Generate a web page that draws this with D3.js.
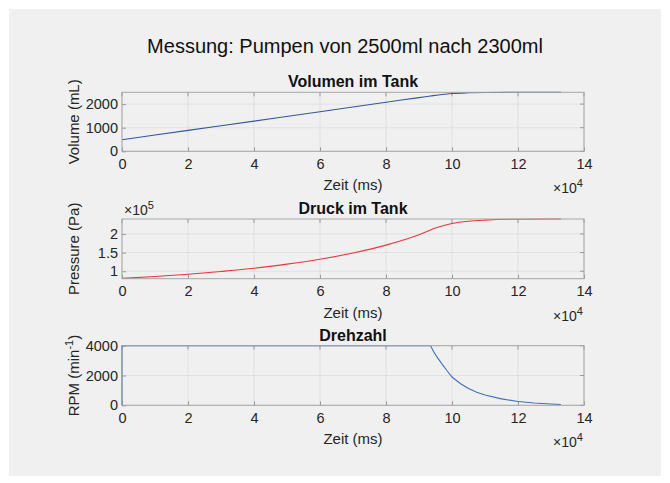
<!DOCTYPE html>
<html><head><meta charset="utf-8">
<script src="https://cdn.jsdelivr.net/npm/d3@7"></script>
<style>body{margin:0;background:#fff}svg{display:block}text{font-family:"Liberation Sans",Arial,sans-serif}</style>
</head><body><svg id="c" width="670" height="483"></svg>
<script>
// time in units of 1e4 ms
const xTicks = [0,2,4,6,8,10,12,14];
const volumeT = [0,2,4,6,8,9,9.35,9.7,10,10.5,11,12,13.3];
const volumeV = [490,885,1280,1675,2080,2275,2345,2410,2450,2480,2493,2499,2500];
const volTicks = [0,1000,2000];
const pressT = [0,1,2,3,4,5,6,7,8,8.5,9,9.5,10,10.5,11,12,13.3];
const pressV = [0.81,0.86,0.92,0.995,1.08,1.19,1.32,1.49,1.70,1.83,1.98,2.16,2.28,2.34,2.37,2.395,2.40];
const pressTicks = [1,1.5,2];
const rpmT = [0,0,9.35,9.45,9.55,9.7,9.85,10,10.25,10.5,10.75,11,11.5,12,12.5,13,13.3];
const rpmV = [0,4000,4000,3580,3230,2760,2320,1900,1460,1130,880,690,430,260,150,85,55];
const rpmTicks = [0,2000,4000];

const svg = d3.select("#c");
svg.append("rect").attr("x",9).attr("y",9).attr("width",652).attr("height",467).attr("fill","#f0f0f0");
svg.append("text").attr("x",345).attr("y",53).attr("text-anchor","middle").attr("font-size",20).attr("fill","#111")
  .text("Messung: Pumpen von 2500ml nach 2300ml");

const X0 = 122, X1 = 584;
const x = d3.scaleLinear().domain([0,14]).range([X0,X1]);

function panel(cfg){
  const y = d3.scaleLinear().domain(cfg.ydom).range([cfg.bot,cfg.top]);
  const g = svg.append("g");
  g.selectAll(".gx").data(xTicks).enter().append("line")
    .attr("x1",d=>x(d)).attr("x2",d=>x(d)).attr("y1",cfg.top).attr("y2",cfg.bot)
    .attr("stroke","#dcdcdc").attr("stroke-width",0.8);
  g.selectAll(".gy").data(cfg.yticks).enter().append("line")
    .attr("x1",X0).attr("x2",X1).attr("y1",d=>y(d)).attr("y2",d=>y(d))
    .attr("stroke","#dcdcdc").attr("stroke-width",0.8);
  const xa = g.append("g").attr("transform",`translate(0,${cfg.bot})`)
    .call(d3.axisBottom(x).tickValues(xTicks).tickSize(-4).tickPadding(7).tickFormat(d3.format("d")));
  const ya = g.append("g").attr("transform",`translate(${X0},0)`)
    .call(d3.axisLeft(y).tickValues(cfg.yticks).tickSize(-4).tickPadding(4).tickFormat(cfg.fmt));
  [xa,ya].forEach(a=>{
    a.select(".domain").remove();
    a.selectAll(".tick line").attr("stroke","#999");
    a.selectAll(".tick text").attr("font-size",14.5).attr("fill","#262626").attr("font-family","Liberation Sans, Arial, sans-serif");
  });
  g.selectAll(".tt").data(xTicks).enter().append("line")
    .attr("x1",d=>x(d)).attr("x2",d=>x(d)).attr("y1",cfg.top).attr("y2",cfg.top+4).attr("stroke","#999");
  g.selectAll(".rt").data(cfg.yticks).enter().append("line")
    .attr("x1",X1).attr("x2",X1-4).attr("y1",d=>y(d)).attr("y2",d=>y(d)).attr("stroke","#999");
  const lineL = d3.line().x((d,i)=>x(cfg.t[i])).y(d=>y(d)).curve(cfg.linear?d3.curveLinear:d3.curveMonotoneX);
  g.append("path").datum(cfg.v).attr("d",lineL).attr("fill","none").attr("stroke",cfg.color).attr("stroke-width",1.1);
  g.append("rect").attr("x",X0).attr("y",cfg.top).attr("width",X1-X0).attr("height",cfg.bot-cfg.top)
    .attr("fill","none").attr("stroke","#a6a6a6").attr("stroke-width",1);
  g.append("text").attr("x",(X0+X1)/2).attr("y",cfg.top-5).attr("text-anchor","middle")
    .attr("font-size",16).attr("font-weight","bold").attr("fill","#111").text(cfg.title);
  g.append("text").attr("x",(X0+X1)/2).attr("y",cfg.bot+39).attr("text-anchor","middle")
    .attr("font-size",15).attr("fill","#262626").text("Zeit (ms)");
  const ex = g.append("text").attr("x",X1-31).attr("y",cfg.bot+42).attr("font-size",14).attr("fill","#262626");
  ex.append("tspan").text("×10");
  ex.append("tspan").attr("dy",-6).attr("font-size",11).text("4");
  const yl = g.append("text").attr("transform",`translate(${cfg.ylx},${(cfg.top+cfg.bot)/2}) rotate(-90)`)
    .attr("text-anchor","middle").attr("font-size",15).attr("fill","#262626");
  cfg.ylabel(yl);
  if(cfg.yexp){
    const t = g.append("text").attr("x",X0+2).attr("y",cfg.top-4).attr("font-size",14).attr("fill","#262626");
    t.append("tspan").text("×10");
    t.append("tspan").attr("dy",-6).attr("font-size",11).text(cfg.yexp);
  }
}

panel({top:92.3,bot:151.3,ydom:[0,2500],yticks:volTicks,fmt:d3.format("d"),t:volumeT,v:volumeV,color:"#34569c",
  title:"Volumen im Tank",ylx:79,ylabel:t=>t.text("Volume (mL)")});
panel({top:219,bot:278.7,ydom:[0.8,2.4],yticks:pressTicks,fmt:d=>d===1.5?"1.5":d3.format("d")(d),t:pressT,v:pressV,color:"#e8383d",
  title:"Druck im Tank",ylx:79,yexp:"5",ylabel:t=>t.text("Pressure (Pa)")});
panel({top:345.7,bot:405.3,ydom:[0,4000],yticks:rpmTicks,fmt:d3.format("d"),t:rpmT,v:rpmV,color:"#3d6fbf",linear:true,
  title:"Drehzahl",ylx:79,ylabel:t=>{t.append("tspan").text("RPM (min");t.append("tspan").attr("dy",-6).attr("font-size",11).text("-1");t.append("tspan").attr("dy",6).text(")");}});
</script></body></html>
